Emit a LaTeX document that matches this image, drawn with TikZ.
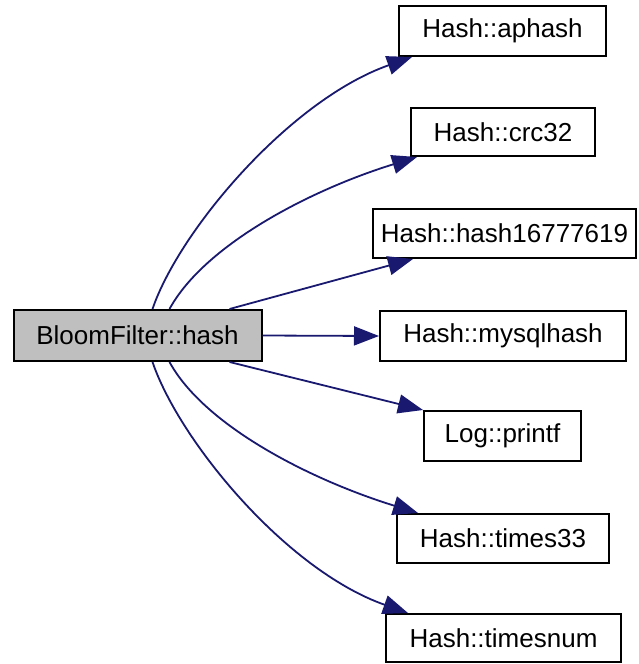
\documentclass[tikz,border=0pt]{standalone}
\usepackage{fontspec}
\setmainfont{Liberation Sans}
\usetikzlibrary{arrows.meta}
\definecolor{edgeblue}{HTML}{191970}
\definecolor{nodegray}{HTML}{BFBFBF}
\begin{document}
\begin{tikzpicture}[x=1pt,y=-1pt,
        fn/.style={draw=black,line width=2pt,inner sep=0pt,font=\fontsize{26}{30}\selectfont},
        call/.style={-{Triangle[length=25pt,width=19pt]},draw=edgeblue,line width=1.8pt}]

        \useasboundingbox (0,0) rectangle (639,664);

        % Define the caller and the called functions
        \node[fn,fill=nodegray,minimum width=248,minimum height=51] (bloom) at (137.5,335.5) {BloomFilter::hash};
        \node[fn,minimum width=207,minimum height=50] (aphash) at (502.5,31) {Hash::aphash};
        \node[fn,minimum width=184,minimum height=48] (crc32) at (503,132) {Hash::crc32};
        \node[fn,minimum width=263,minimum height=49] (hash16777619) at (504.5,233.5) {Hash::hash16777619};
        \node[fn,minimum width=246,minimum height=50] (mysqlhash) at (503,336) {Hash::mysqlhash};
        \node[fn,minimum width=157,minimum height=50] (printf) at (502.5,436) {Log::printf};
        \node[fn,minimum width=212,minimum height=49] (times33) at (503,538.5) {Hash::times33};
        \node[fn,minimum width=235,minimum height=48] (timesnum) at (503.5,638) {Hash::timesnum};

        % Draw the calls
        \draw[call] ([xshift=140]bloom.north west) .. controls +(27,-79) and +(-122,43) .. ([xshift=14]aphash.south west);
        \draw[call] ([xshift=157]bloom.north west) .. controls +(35,-64) and +(-107,33) .. ([xshift=7]crc32.south west);
        \draw[call] ([xshift=-33]bloom.north east) -- ([xshift=41]hash16777619.south west);
        \draw[call] (bloom.east) -- (mysqlhash.west);
        \draw[call] ([xshift=-33]bloom.south east) -- (printf.north west);
        \draw[call] ([xshift=157]bloom.south west) .. controls +(35,64) and +(-107,-33) .. ([xshift=22]times33.north west);
        \draw[call] ([xshift=140]bloom.south west) .. controls +(27,79) and +(-122,-43) .. ([xshift=23]timesnum.north west);

    \end{tikzpicture}
\end{document}
